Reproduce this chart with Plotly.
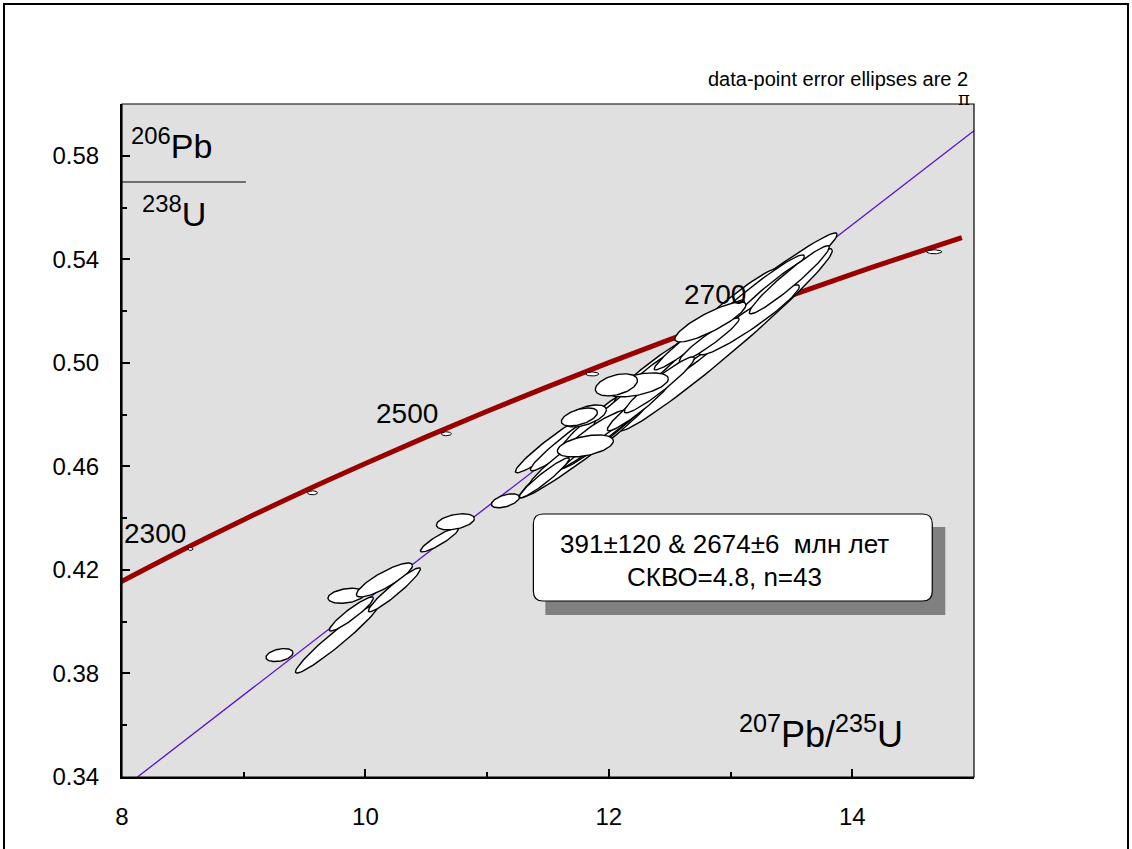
import numpy as np
import plotly.graph_objects as go

# ---- data -----------------------------------------------------------------
# 207Pb/235U, 2s(207Pb/235U), 206Pb/238U, 2s(206Pb/238U), error correlation
pb207_u235 = [9.294, 9.770, 9.885, 9.844, 10.156, 10.238, 10.608, 10.739, 11.150,
              12.899, 12.957, 12.899, 12.875, 11.799, 11.585, 11.733, 12.127, 12.004,
              12.251, 12.415, 12.661, 13.113, 12.743, 11.922, 13.318, 13.154, 12.497,
              11.593, 11.470, 13.483, 12.333, 12.743, 12.168, 11.922, 12.251, 12.825,
              12.415,
              11.807, 11.758, 12.234, 12.062, 11.807, 12.834]
err_207 = [0.111, 0.345, 0.181, 0.152, 0.230, 0.214, 0.156, 0.156, 0.115,
           0.977, 0.879, 0.649, 0.542, 0.534, 0.353, 0.378, 0.534, 0.493,
           0.411, 0.370, 0.452, 0.493, 0.329, 0.329, 0.370, 0.411, 0.411,
           0.246, 0.205, 0.329, 0.288, 0.370, 0.288, 0.246, 0.263, 0.246,
           0.288,
           0.173, 0.148, 0.255, 0.173, 0.230, 0.292]
pb206_u238 = [0.3871, 0.3937, 0.4030, 0.4100, 0.4161, 0.4123, 0.4316, 0.4386, 0.4467,
              0.5139, 0.5089, 0.5131, 0.5143, 0.4668, 0.4699, 0.4718, 0.4811, 0.4760,
              0.4876, 0.4954, 0.5050, 0.5224, 0.5070, 0.4780, 0.5263, 0.5166, 0.5012,
              0.4617, 0.4556, 0.5321, 0.4954, 0.5108, 0.4857, 0.4741, 0.4838, 0.5089,
              0.4915,
              0.4795, 0.4791, 0.4915, 0.4915, 0.4679, 0.5158]
err_206 = [0.00251, 0.01353, 0.00657, 0.00290, 0.00657, 0.00850, 0.00464, 0.00309, 0.00270,
           0.0363, 0.0352, 0.0255, 0.0224, 0.01894, 0.01237, 0.01353, 0.0220, 0.01855,
           0.01546, 0.01469, 0.01739, 0.01932, 0.0116, 0.01275, 0.01469, 0.01353, 0.01353,
           0.00928, 0.00773, 0.01314, 0.01082, 0.01353, 0.01005, 0.00773, 0.01005, 0.00850,
           0.01082,
           0.00425, 0.00348, 0.00464, 0.00425, 0.00425, 0.00773]
rho = [0.35, 0.965, 0.93, 0.30, 0.85, 0.95, 0.90, 0.40, 0.50,
       0.985, 0.98, 0.97, 0.96, 0.975, 0.96, 0.965, 0.97, 0.97,
       0.96, 0.96, 0.96, 0.97, 0.93, 0.95, 0.96, 0.95, 0.95,
       0.95, 0.95, 0.96, 0.96, 0.97, 0.93, 0.90, 0.95, 0.95,
       0.95,
       0.55, 0.50, 0.50, 0.40, 0.45, 0.85]

# concordia curve
conc_x = [7.95, 8.5, 9.0, 9.5, 10.0, 10.5, 11.0, 11.5, 12.0, 12.5, 13.0, 13.5, 14.0, 14.5, 14.9]
conc_y = [0.4144, 0.4278, 0.4394, 0.4505, 0.4611, 0.4714, 0.4813, 0.4908, 0.5001,
          0.5090, 0.5177, 0.5261, 0.5343, 0.5422, 0.5484]

# age marks on the concordia (Ma) and their small ellipses
mark_age = [2300, 2400, 2500, 2600, 2700, 2800]
mark_x = [8.563, 9.565, 10.665, 11.864, 13.277, 14.673]
mark_y = [0.4281, 0.4498, 0.4726, 0.4957, 0.5201, 0.5429]
mark_sx = [0.021, 0.041, 0.041, 0.053, 0.057, 0.062]
mark_sy = [0.00058, 0.00077, 0.00077, 0.00077, 0.00077, 0.00077]

# labelled ages and label positions
label_age = ["2300", "2500", "2700"]
label_x = [8.275, 10.345, 12.875]
label_y = [0.4339, 0.4803, 0.5263]

# discordia (regression line) end points
disc_x = [8.127, 15.0]
disc_y = [0.34, 0.5897]

x_ticks = [8, 10, 12, 14]
x_minor = [9, 11, 13]
y_ticks = [0.34, 0.38, 0.42, 0.46, 0.50, 0.54, 0.58]
y_minor = [0.36, 0.40, 0.44, 0.48, 0.52, 0.56]

result_text = ["391±120 & 2674±6 \u00a0млн лет", "СКВО=4.8, n=43"]

# ---- geometry helpers -------------------------------------------------------
X0, X1, Y0, Y1 = 8.0, 15.0, 0.34, 0.60
W, H = 1132, 849
ML, MR, MT, MB = 122, 158, 104, 72
PW, PH = W - ML - MR, H - MT - MB


def px(v):
    return (v - ML) / PW


def py(v):
    return (H - MB - v) / PH


def ellipse(cx, cy, sx, sy, r, n=90):
    t = np.linspace(0, 2 * np.pi, n)
    ex = cx + sx * np.cos(t)
    ey = cy + sy * (r * np.cos(t) + np.sqrt(1 - r * r) * np.sin(t))
    return ex, ey


FONT = "Liberation Sans, Arial, sans-serif"

fig = go.Figure()

# discordia
fig.add_trace(go.Scatter(x=disc_x, y=disc_y, mode="lines",
                         line=dict(color="#5A10C8", width=1.3),
                         hoverinfo="skip", showlegend=False))
# concordia
fig.add_trace(go.Scatter(x=conc_x, y=conc_y, mode="lines", line_shape="spline",
                         line=dict(color="#990000", width=5),
                         hoverinfo="skip", showlegend=False))
# concordia age marks
for cx, cy, sx, sy in zip(mark_x, mark_y, mark_sx, mark_sy):
    ex, ey = ellipse(cx, cy, sx, sy, 0.0, 40)
    fig.add_trace(go.Scatter(x=ex, y=ey, mode="lines", fill="toself",
                             fillcolor="white", line=dict(color="black", width=1),
                             hoverinfo="skip", showlegend=False))
# data-point error ellipses
for cx, sx, cy, sy, r in zip(pb207_u235, err_207, pb206_u238, err_206, rho):
    ex, ey = ellipse(cx, cy, sx, sy, r)
    fig.add_trace(go.Scatter(x=ex, y=ey, mode="lines", fill="toself",
                             fillcolor="white", line=dict(color="black", width=1.4),
                             hoverinfo="skip", showlegend=False))

annotations = []
for txt, ax_, ay_ in zip(label_age, label_x, label_y):
    annotations.append(dict(x=ax_, y=ay_, xref="x", yref="y", text=txt, showarrow=False,
                            font=dict(size=28, color="black", family=FONT)))

# result box with shadow
bx0, bx1, by0, by1 = 11.380, 14.657, 0.4080, 0.4416
rx, ry = 0.08, 0.0038
box_path = (f"M {bx0+rx},{by1} L {bx1-rx},{by1} Q {bx1},{by1} {bx1},{by1-ry} "
            f"L {bx1},{by0+ry} Q {bx1},{by0} {bx1-rx},{by0} L {bx0+rx},{by0} "
            f"Q {bx0},{by0} {bx0},{by0+ry} L {bx0},{by1-ry} Q {bx0},{by1} {bx0+rx},{by1} Z")
shapes = [
    dict(type="rect", xref="x", yref="y", x0=11.478, x1=14.764, y0=0.4026, y1=0.4366,
         fillcolor="#808080", line=dict(width=0), layer="above"),
    dict(type="path", xref="x", yref="y", path=box_path, fillcolor="white",
         line=dict(color="black", width=1.2), layer="above"),
    # frame of the plotting area
    dict(type="rect", xref="paper", yref="paper", x0=0, x1=1, y0=0, y1=1,
         line=dict(color="black", width=1.2), layer="above"),
    # fraction bar of the y label
    dict(type="line", xref="paper", yref="paper", x0=0, x1=px(246), y0=py(182), y1=py(182),
         line=dict(color="black", width=1.2)),
    # outer border of the figure
    dict(type="rect", xref="paper", yref="paper", x0=px(4), x1=px(1128), y0=py(870), y1=py(4),
         line=dict(color="black", width=2)),
]

annotations += [
    dict(x=12.949, y=0.4300, xref="x", yref="y", text=result_text[0], showarrow=False,
         font=dict(size=26, color="black", family=FONT)),
    dict(x=12.949, y=0.4173, xref="x", yref="y", text=result_text[1], showarrow=False,
         font=dict(size=26, color="black", family=FONT)),
    dict(x=px(905), y=py(757), xref="paper", yref="paper", xanchor="right", yanchor="bottom",
         text="<sup>207</sup>Pb/<sup>235</sup>U", showarrow=False,
         font=dict(size=36, color="black", family=FONT)),
    dict(x=px(129), y=py(167), xref="paper", yref="paper", xanchor="left", yanchor="bottom",
         text="<sup>206</sup>Pb", showarrow=False,
         font=dict(size=34, color="black", family=FONT)),
    dict(x=px(140), y=py(235), xref="paper", yref="paper", xanchor="left", yanchor="bottom",
         text="<sup>238</sup>U", showarrow=False,
         font=dict(size=34, color="black", family=FONT)),
    dict(x=px(970), y=py(92), xref="paper", yref="paper", xanchor="right", yanchor="bottom",
         text="data-point error ellipses are 2", showarrow=False,
         font=dict(size=20, color="black", family=FONT)),
    dict(x=px(964), y=py(98), xref="paper", yref="paper", xanchor="center", yanchor="middle",
         text="π", showarrow=False,
         font=dict(size=18, color="black", family="DejaVu Serif, serif")),
]

fig.update_layout(
    width=W, height=H,
    margin=dict(l=ML, r=MR, t=MT, b=MB, pad=0),
    paper_bgcolor="white", plot_bgcolor="#E0E0E0",
    font=dict(family=FONT, size=24, color="black"),
    shapes=shapes, annotations=annotations,
    showlegend=False,
)
fig.update_xaxes(range=[X0, X1], showgrid=False, zeroline=False,
                 showline=True, linecolor="black", linewidth=2,
                 ticks="inside", ticklen=8, tickwidth=1.5, tickcolor="black",
                 tickvals=x_ticks, ticktext=[str(v) for v in x_ticks],
                 tickfont=dict(size=24), ticklabelstandoff=17,
                 minor=dict(tickvals=x_minor, ticks="inside", ticklen=5, tickwidth=1.5,
                            tickcolor="black", showgrid=False))
fig.update_yaxes(range=[Y0, Y1], showgrid=False, zeroline=False,
                 showline=True, linecolor="black", linewidth=2,
                 ticks="inside", ticklen=8, tickwidth=1.5, tickcolor="black",
                 tickvals=y_ticks, ticktext=[f"{v:.2f}" for v in y_ticks],
                 tickfont=dict(size=24), ticklabelstandoff=16,
                 minor=dict(tickvals=y_minor, ticks="inside", ticklen=5, tickwidth=1.5,
                            tickcolor="black", showgrid=False))

fig.write_html("out.html")
